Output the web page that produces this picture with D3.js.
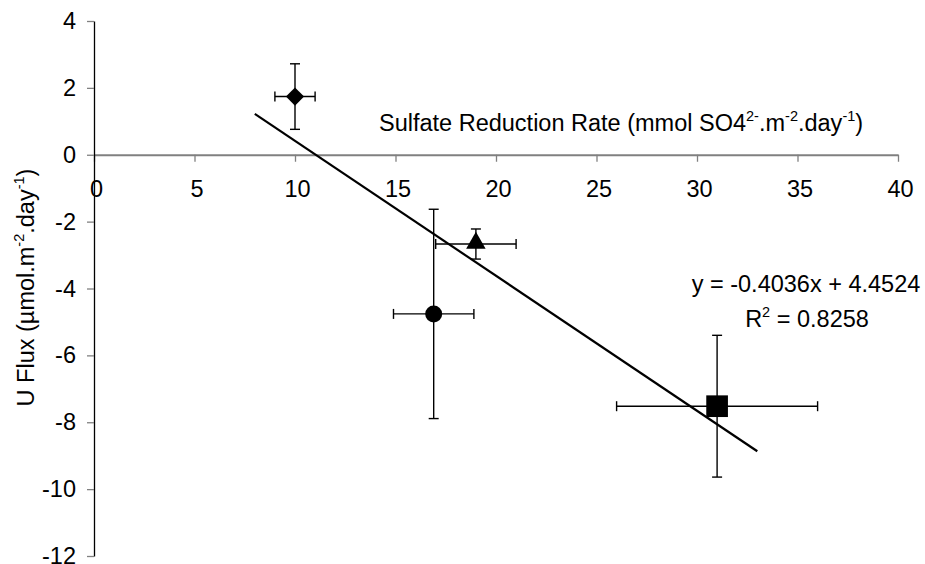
<!DOCTYPE html>
<html>
<head>
<meta charset="utf-8">
<script src="https://cdn.jsdelivr.net/npm/d3@7/dist/d3.min.js"></script>
<style>
  html, body { margin: 0; padding: 0; background: #fff; }
  svg { display: block; }
  text { font-family: "Liberation Sans", Arial, sans-serif; fill: #000; }
</style>
</head>
<body>
<div id="chart"></div>
<script>
// ---- data ----
const xTicks = [0, 5, 10, 15, 20, 25, 30, 35, 40];
const yTicks = [4, 2, 0, -2, -4, -6, -8, -10, -12];
const siteNames = ["diamond", "circle", "triangle", "square"];
const sulfateRate = [10, 16.9, 19, 31];
const uFlux = [1.74, -4.76, -2.67, -7.52];
const sulfateErr = [1, 2, 2, 5];
const fluxErr = [0.98, 3.13, 0.45, 2.12];
const trendSlope = -0.4036;
const trendIntercept = 4.4524;
const trendRange = [8, 33];

const W = 925, H = 564;
const FONT = "Liberation Sans, Arial, sans-serif";
const TICK_FS = 23.5, TITLE_FS = 23.5, SUP_FS = 14.5, SUP_DY = 10;
const svg = d3.select("#chart").append("svg").attr("width", W).attr("height", H);

const x = d3.scaleLinear().domain([0, 40]).range([94, 898]);
const y = d3.scaleLinear().domain([-12, 4]).range([556, 21]);
const fmt = d => String(d);

// x axis (at y = 0)
const xAxisG = svg.append("g").attr("transform", `translate(0,${y(0)})`)
  .call(d3.axisBottom(x).tickValues(xTicks).tickFormat(fmt).tickSize(7).tickSizeOuter(0).tickPadding(19));
xAxisG.select(".domain").attr("stroke", "#808080").attr("stroke-width", 2);
xAxisG.selectAll(".tick line").attr("stroke", "#808080").attr("stroke-width", 1.3);
xAxisG.selectAll(".tick text").attr("font-size", TICK_FS).attr("font-family", FONT).attr("fill", "#000").attr("dx", 2);

// y axis
const yAxisG = svg.append("g").attr("transform", `translate(${x(0)},0)`)
  .call(d3.axisLeft(y).tickValues(yTicks).tickFormat(fmt).tickSize(7).tickSizeOuter(0).tickPadding(11));
yAxisG.select(".domain").attr("stroke", "#000").attr("stroke-width", 1.3);
yAxisG.selectAll(".tick line").attr("stroke", "#808080").attr("stroke-width", 1.3);
yAxisG.selectAll(".tick text").attr("font-size", TICK_FS).attr("font-family", FONT).attr("fill", "#000");

// axis titles
const xt = svg.append("text").attr("x", 379).attr("y", 131).attr("font-size", TITLE_FS);
xt.append("tspan").text("Sulfate Reduction Rate (mmol SO4");
xt.append("tspan").attr("dy", -SUP_DY).attr("font-size", SUP_FS).text("2-");
xt.append("tspan").attr("dy", SUP_DY).text(".m");
xt.append("tspan").attr("dy", -SUP_DY).attr("font-size", SUP_FS).text("-2");
xt.append("tspan").attr("dy", SUP_DY).text(".day");
xt.append("tspan").attr("dy", -SUP_DY).attr("font-size", SUP_FS).text("-1");
xt.append("tspan").attr("dy", SUP_DY).text(")");

const yt = svg.append("text").attr("transform", `translate(34,${y(-3.97)}) rotate(-90)`)
  .attr("text-anchor", "middle").attr("font-size", TITLE_FS);
yt.append("tspan").text("U Flux (µmol.m");
yt.append("tspan").attr("dy", -SUP_DY).attr("font-size", SUP_FS).text("-2");
yt.append("tspan").attr("dy", SUP_DY).text(".day");
yt.append("tspan").attr("dy", -SUP_DY).attr("font-size", SUP_FS).text("-1");
yt.append("tspan").attr("dy", SUP_DY).text(")");

// trendline
svg.append("line")
  .attr("x1", x(trendRange[0])).attr("y1", y(trendSlope * trendRange[0] + trendIntercept))
  .attr("x2", x(trendRange[1])).attr("y2", y(trendSlope * trendRange[1] + trendIntercept))
  .attr("stroke", "#000").attr("stroke-width", 2.2);

// error bars
const cap = 5;
const pts = siteNames.map((n, i) => ({ n, xv: sulfateRate[i], yv: uFlux[i], xe: sulfateErr[i], ye: fluxErr[i] }));
const eb = svg.append("g").attr("stroke", "#000").attr("stroke-width", 1.4);
pts.forEach(p => {
  eb.append("line").attr("x1", x(p.xv - p.xe)).attr("x2", x(p.xv + p.xe)).attr("y1", y(p.yv)).attr("y2", y(p.yv));
  eb.append("line").attr("x1", x(p.xv - p.xe)).attr("x2", x(p.xv - p.xe)).attr("y1", y(p.yv) - cap).attr("y2", y(p.yv) + cap);
  eb.append("line").attr("x1", x(p.xv + p.xe)).attr("x2", x(p.xv + p.xe)).attr("y1", y(p.yv) - cap).attr("y2", y(p.yv) + cap);
  eb.append("line").attr("x1", x(p.xv)).attr("x2", x(p.xv)).attr("y1", y(p.yv - p.ye)).attr("y2", y(p.yv + p.ye));
  eb.append("line").attr("x1", x(p.xv) - cap).attr("x2", x(p.xv) + cap).attr("y1", y(p.yv - p.ye)).attr("y2", y(p.yv - p.ye));
  eb.append("line").attr("x1", x(p.xv) - cap).attr("x2", x(p.xv) + cap).attr("y1", y(p.yv + p.ye)).attr("y2", y(p.yv + p.ye));
});

// markers
const symType = { diamond: d3.symbolSquare, circle: d3.symbolCircle, triangle: d3.symbolTriangle, square: d3.symbolSquare };
const symSize = { diamond: 165, circle: 227, triangle: 165, square: 470 };
pts.forEach(p => {
  svg.append("path")
    .attr("d", d3.symbol().type(symType[p.n]).size(symSize[p.n])())
    .attr("transform", `translate(${x(p.xv)},${y(p.yv) + (p.n === "triangle" ? -1 : 0)})` + (p.n === "diamond" ? " rotate(45)" : ""))
    .attr("fill", "#000");
});

// equation text
svg.append("text").attr("x", 806).attr("y", 292).attr("text-anchor", "middle").attr("font-size", TITLE_FS)
  .text("y = -0.4036x + 4.4524");
const r2 = svg.append("text").attr("x", 807).attr("y", 327).attr("text-anchor", "middle").attr("font-size", TITLE_FS);
r2.append("tspan").text("R");
r2.append("tspan").attr("dy", -SUP_DY).attr("font-size", SUP_FS).text("2");
r2.append("tspan").attr("dy", SUP_DY).text(" = 0.8258");
</script>
</body>
</html>
